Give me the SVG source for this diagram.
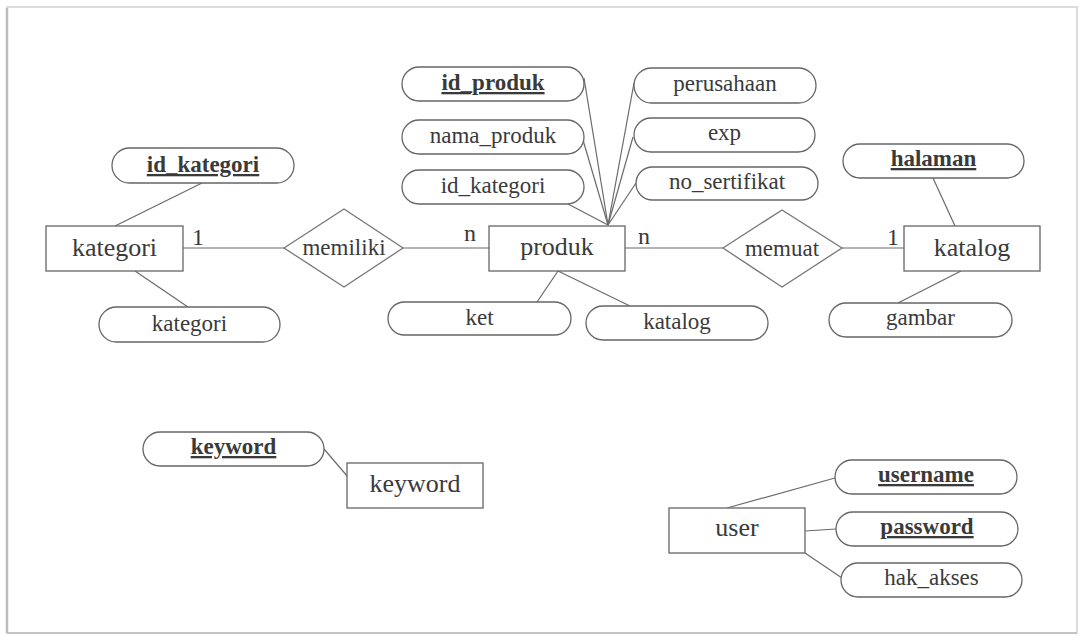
<svg xmlns="http://www.w3.org/2000/svg" width="1083" height="636" viewBox="0 0 1083 636">
<style>
.ent{fill:#fff;stroke:#666;stroke-width:1.3}
.att{fill:#fff;stroke:#666;stroke-width:1.3}
.rel{fill:#fff;stroke:#777;stroke-width:1.3}
.et{font-family:"Liberation Serif","Times New Roman",serif;font-size:26px;fill:#3a3a3a;text-anchor:middle}
.at{font-family:"Liberation Serif","Times New Roman",serif;font-size:23px;fill:#3a3a3a;text-anchor:middle}
.key{font-weight:bold;text-decoration:underline}
.card{font-family:"Liberation Serif","Times New Roman",serif;font-size:24px;fill:#3a3a3a}
#connectors line{stroke:#6a6a6a;stroke-width:1.2}
</style>
<rect x="0" y="0" width="1083" height="636" fill="#fff"/>
<rect x="7" y="7" width="1070" height="626" fill="#fff" stroke="#dcdcdc" stroke-width="2"/>
<line x1="7" y1="8" x2="7" y2="633" stroke="#bdbdbd" stroke-width="2.5"/>
<line x1="7" y1="633" x2="1077" y2="633" stroke="#c4c4c4" stroke-width="2"/>

<g id="connectors">
  <line x1="202" y1="183" x2="115" y2="226"/>
  <line x1="135" y1="271" x2="188" y2="307"/>
  <line x1="183" y1="248" x2="284" y2="248"/>
  <line x1="403" y1="248" x2="489" y2="248"/>
  <line x1="584" y1="78" x2="608" y2="225"/>
  <line x1="583" y1="140" x2="608" y2="225"/>
  <line x1="568" y1="204" x2="608" y2="225"/>
  <line x1="634" y1="83" x2="608" y2="225"/>
  <line x1="633" y1="137" x2="608" y2="225"/>
  <line x1="636" y1="183" x2="608" y2="225"/>
  <line x1="558" y1="271" x2="537" y2="302"/>
  <line x1="558" y1="271" x2="630" y2="306"/>
  <line x1="625" y1="248" x2="723" y2="248"/>
  <line x1="842" y1="248" x2="904" y2="248"/>
  <line x1="933" y1="178" x2="955" y2="226"/>
  <line x1="961" y1="271" x2="898" y2="303"/>
  <line x1="324" y1="449" x2="348" y2="477"/>
  <line x1="727" y1="508" x2="835" y2="478"/>
  <line x1="805" y1="531" x2="836" y2="529"/>
  <line x1="805" y1="553" x2="842" y2="578"/>
</g>

<g id="kategori">
  <rect class="ent" x="46" y="226" width="137" height="45"/>
  <text class="et" x="114.5" y="256">kategori</text>
</g>
<g id="attr-id_kategori">
  <rect class="att" x="112" y="148" width="182" height="35" rx="17.5"/>
  <text class="at key" x="203" y="172">id_kategori</text>
</g>
<g id="attr-kategori">
  <rect class="att" x="99" y="307" width="181" height="35" rx="17.5"/>
  <text class="at" x="189.5" y="331">kategori</text>
</g>
<g id="memiliki">
  <polygon class="rel" points="284,248 344,209 403,248 344,287"/>
  <text class="at" x="344" y="255">memiliki</text>
</g>
<g id="produk">
  <rect class="ent" x="489" y="226" width="136" height="45"/>
  <text class="et" x="557" y="255">produk</text>
</g>
<g id="attr-id_produk">
  <rect class="att" x="402" y="67" width="182" height="34" rx="17"/>
  <text class="at key" x="493" y="90">id_produk</text>
</g>
<g id="attr-nama_produk">
  <rect class="att" x="402" y="120" width="182" height="34" rx="17"/>
  <text class="at" x="493" y="143">nama_produk</text>
</g>
<g id="attr-id_kategori2">
  <rect class="att" x="402" y="170" width="182" height="34" rx="17"/>
  <text class="at" x="493" y="193">id_kategori</text>
</g>
<g id="attr-perusahaan">
  <rect class="att" x="634" y="68" width="182" height="35" rx="17.5"/>
  <text class="at" x="725" y="91">perusahaan</text>
</g>
<g id="attr-exp">
  <rect class="att" x="634" y="118" width="181" height="34" rx="17"/>
  <text class="at" x="724.5" y="140">exp</text>
</g>
<g id="attr-no_sertifikat">
  <rect class="att" x="636" y="167" width="182" height="33" rx="16.5"/>
  <text class="at" x="727" y="189">no_sertifikat</text>
</g>
<g id="attr-ket">
  <rect class="att" x="388" y="302" width="183" height="33" rx="16.5"/>
  <text class="at" x="479.5" y="325">ket</text>
</g>
<g id="attr-katalog">
  <rect class="att" x="586" y="306" width="182" height="34" rx="17"/>
  <text class="at" x="677" y="329">katalog</text>
</g>
<g id="memuat">
  <polygon class="rel" points="723,248 782,210 842,248 782,287"/>
  <text class="at" x="782" y="256">memuat</text>
</g>
<g id="katalog">
  <rect class="ent" x="904" y="226" width="136" height="45"/>
  <text class="et" x="972" y="256">katalog</text>
</g>
<g id="attr-halaman">
  <rect class="att" x="843" y="144" width="181" height="34" rx="17"/>
  <text class="at key" x="933.5" y="166">halaman</text>
</g>
<g id="attr-gambar">
  <rect class="att" x="829" y="303" width="183" height="34" rx="17"/>
  <text class="at" x="920.5" y="325">gambar</text>
</g>
<g id="keyword">
  <rect class="ent" x="347" y="463" width="136" height="45"/>
  <text class="et" x="415" y="492">keyword</text>
</g>
<g id="attr-keyword">
  <rect class="att" x="143" y="432" width="181" height="34" rx="17"/>
  <text class="at key" x="233.5" y="454">keyword</text>
</g>
<g id="user">
  <rect class="ent" x="669" y="508" width="136" height="45"/>
  <text class="et" x="737" y="536">user</text>
</g>
<g id="attr-username">
  <rect class="att" x="835" y="460" width="182" height="34" rx="17"/>
  <text class="at key" x="926" y="482">username</text>
</g>
<g id="attr-password">
  <rect class="att" x="836" y="512" width="182" height="34" rx="17"/>
  <text class="at key" x="927" y="534">password</text>
</g>
<g id="attr-hak_akses">
  <rect class="att" x="841" y="563" width="181" height="34" rx="17"/>
  <text class="at" x="931.5" y="585">hak_akses</text>
</g>

<g id="cardinalities">
  <text class="card" x="192" y="245">1</text>
  <text class="card" x="464" y="241">n</text>
  <text class="card" x="638" y="244">n</text>
  <text class="card" x="887" y="245">1</text>
</g>
</svg>
